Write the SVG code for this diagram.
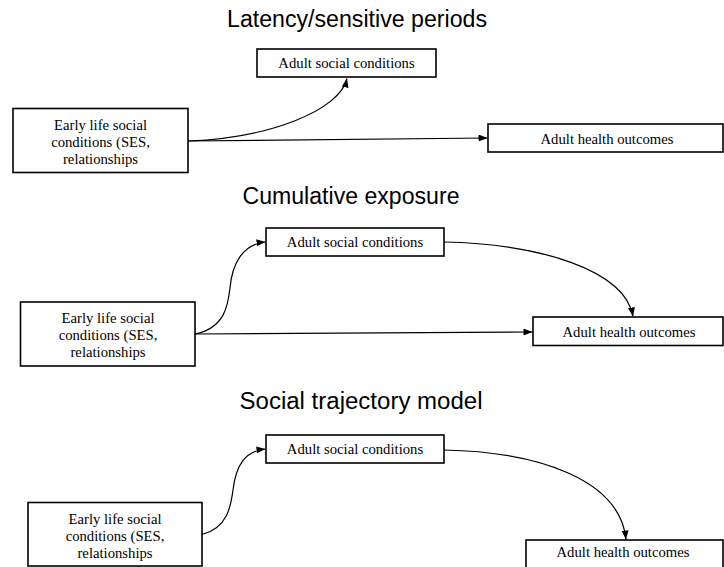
<svg xmlns="http://www.w3.org/2000/svg" width="724" height="567" viewBox="0 0 724 567">
<style>
.title{font-family:"Liberation Sans",Arial,sans-serif;font-size:23px;fill:#000;text-anchor:middle}
.box{fill:#fff;stroke:#000;stroke-width:1.6}
.lbl{font-family:"Liberation Serif","Times New Roman",serif;font-size:14.7px;fill:#000;text-anchor:middle}
.conn{fill:none;stroke:#000;stroke-width:1.2;marker-end:url(#arr)}
</style>
<defs>
<marker id="arr" markerUnits="userSpaceOnUse" markerWidth="10" markerHeight="8" refX="9" refY="3.5" orient="auto">
<path d="M0,0 L9,3.5 L0,7 z" fill="#000"/>
</marker>
</defs>
<rect width="724" height="567" fill="#fff"/>
<text class="title" x="357" y="27" textLength="260" lengthAdjust="spacingAndGlyphs">Latency/sensitive periods</text>
<text class="title" x="351" y="204" textLength="217" lengthAdjust="spacingAndGlyphs">Cumulative exposure</text>
<text class="title" x="361" y="409" textLength="243" lengthAdjust="spacingAndGlyphs">Social trajectory model</text>

<g id="connectors">
<path class="conn" d="M188,141 C270,138 340,110 347,78.5"/>
<path class="conn" d="M188,141 L487.5,138"/>
<path class="conn" d="M195,334 C225,328 228,305 230,288 C232,265 242,244 265.5,242"/>
<path class="conn" d="M195,334 L532.5,332"/>
<path class="conn" d="M444,242 C540,244 625,270 633,316.5"/>
<path class="conn" d="M202,534.5 C228,528 231,505 233,490 C236,465 245,451 265.5,449"/>
<path class="conn" d="M444,450 C540,452 620,480 626,539.5"/>
</g>

<g id="p1-adult-social">
<rect class="box" x="257" y="49" width="179" height="28"/>
<text class="lbl" x="346.5" y="68">Adult social conditions</text>
</g>
<g id="p1-early-life">
<rect class="box" x="13" y="108.5" width="175" height="64"/>
<text class="lbl" x="100.5" y="129.5">Early life social</text>
<text class="lbl" x="100.5" y="146.5">conditions (SES,</text>
<text class="lbl" x="100.5" y="163.5">relationships</text>
</g>
<g id="p1-adult-health">
<rect class="box" x="488" y="124" width="235" height="28"/>
<text class="lbl" x="607" y="144">Adult health outcomes</text>
</g>

<g id="p2-adult-social">
<rect class="box" x="266" y="228" width="178" height="28"/>
<text class="lbl" x="355" y="247">Adult social conditions</text>
</g>
<g id="p2-early-life">
<rect class="box" x="20.5" y="302" width="174.5" height="64"/>
<text class="lbl" x="108" y="323">Early life social</text>
<text class="lbl" x="108" y="340">conditions (SES,</text>
<text class="lbl" x="108" y="357">relationships</text>
</g>
<g id="p2-adult-health">
<rect class="box" x="533" y="317" width="190" height="28.5"/>
<text class="lbl" x="629" y="337">Adult health outcomes</text>
</g>

<g id="p3-adult-social">
<rect class="box" x="266" y="435" width="178" height="28"/>
<text class="lbl" x="355" y="454">Adult social conditions</text>
</g>
<g id="p3-early-life">
<rect class="box" x="28" y="502.5" width="174" height="63.5"/>
<text class="lbl" x="115" y="523.5">Early life social</text>
<text class="lbl" x="115" y="540.5">conditions (SES,</text>
<text class="lbl" x="115" y="557.5">relationships</text>
</g>
<g id="p3-adult-health">
<rect class="box" x="526" y="540" width="197" height="30"/>
<text class="lbl" x="623" y="557">Adult health outcomes</text>
</g>
</svg>
